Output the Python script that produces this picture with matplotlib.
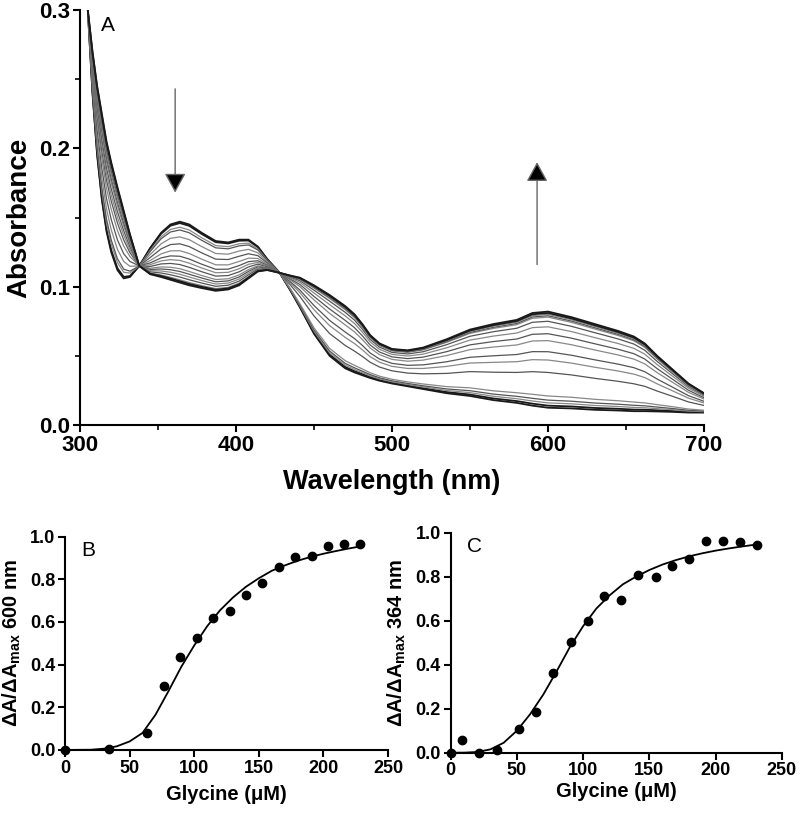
import numpy as np
import matplotlib
matplotlib.use('Agg')
import matplotlib.pyplot as plt
from matplotlib.ticker import MultipleLocator

plt.rcParams['font.family'] = ['Liberation Sans', 'DejaVu Sans']
plt.rcParams['mathtext.default'] = 'regular'
plt.rcParams['axes.linewidth'] = 1.5

# Panel A: spectra (first trace = no glycine, last = saturated)
wl = [302, 305, 308, 311, 314, 317, 320, 324, 328, 332, 338, 345, 352, 358, 364, 370,
      378, 387, 395, 402, 408, 414, 420, 428, 435, 441, 450, 460, 470, 476, 481, 486,
      492, 500, 510, 520, 535, 550, 565, 580, 590, 600, 615, 630, 645, 655, 662, 670,
      680, 690, 700]
abs_first = [0.34, 0.30, 0.24, 0.195, 0.163, 0.14, 0.125, 0.112, 0.106, 0.107, 0.115, 0.128,
             0.139, 0.145, 0.147, 0.145, 0.139, 0.133, 0.132, 0.134, 0.134, 0.129, 0.12, 0.110,
             0.097, 0.085, 0.066, 0.05, 0.041, 0.038, 0.036, 0.034, 0.032, 0.030, 0.028, 0.026,
             0.023, 0.021, 0.018, 0.016, 0.014, 0.0125, 0.012, 0.011, 0.0105, 0.010, 0.010,
             0.0098, 0.0095, 0.009, 0.009]
abs_last = [0.34, 0.30, 0.27, 0.245, 0.225, 0.205, 0.19, 0.172, 0.155, 0.138, 0.115, 0.109,
            0.107, 0.105, 0.103, 0.101, 0.099, 0.097, 0.098, 0.101, 0.106, 0.111, 0.112, 0.110,
            0.108, 0.1065, 0.101, 0.094, 0.086, 0.080, 0.073, 0.065, 0.059, 0.055, 0.054, 0.056,
            0.062, 0.069, 0.073, 0.076, 0.081, 0.082, 0.078, 0.073, 0.068, 0.064, 0.059, 0.050,
            0.040, 0.030, 0.023]
# absorbance of each trace at 364 nm and at 600 nm, in titration order
a364_levels = [0.147, 0.146, 0.143, 0.141, 0.136, 0.131, 0.126, 0.122, 0.119, 0.116,
               0.113, 0.111, 0.109, 0.107, 0.105, 0.104, 0.103]
a600_levels = [0.0125, 0.014, 0.016, 0.018, 0.021, 0.038, 0.047, 0.053, 0.061, 0.066,
               0.071, 0.075, 0.078, 0.079, 0.080, 0.081, 0.082]

# Panel B: normalised change at 600 nm
gly_b = [0, 33.8, 63.6, 76.4, 89.2, 102, 114.6, 127.4, 140.3, 152.6, 165.4, 178.2, 191,
         203.8, 216.2, 228.7]
frac_b = [0, 0.003, 0.078, 0.30, 0.434, 0.523, 0.620, 0.652, 0.727, 0.781, 0.856, 0.906,
          0.909, 0.958, 0.966, 0.966]
fit_x_b = [0, 20, 30, 40, 50, 60, 70, 80, 90, 100, 110, 120, 130, 140, 150, 160, 170, 180,
           190, 200, 210, 220, 231]
fit_y_b = [0, 0.001, 0.006, 0.017, 0.04, 0.08, 0.165, 0.275, 0.39, 0.49, 0.58, 0.655, 0.715,
           0.765, 0.805, 0.84, 0.865, 0.887, 0.905, 0.92, 0.933, 0.945, 0.957]

# Panel C: normalised change at 364 nm
gly_c = [0, 8.8, 21.7, 34.7, 51.6, 64.4, 77.5, 90.6, 103.5, 116, 128.7, 141.7, 154.8, 167.4,
         180.3, 192.8, 205.9, 218.5, 231.6]
frac_c = [0, 0.058, 0.0, 0.012, 0.108, 0.186, 0.364, 0.505, 0.60, 0.712, 0.694, 0.808, 0.80,
          0.848, 0.879, 0.964, 0.964, 0.959, 0.944]
fit_x_c = [0, 10, 20, 30, 40, 50, 60, 70, 80, 90, 100, 110, 120, 130, 140, 150, 160, 170,
           180, 190, 200, 210, 220, 231]
fit_y_c = [0, 0.0, 0.003, 0.015, 0.045, 0.1, 0.175, 0.265, 0.37, 0.48, 0.575, 0.655, 0.715,
           0.765, 0.8, 0.83, 0.855, 0.875, 0.892, 0.906, 0.918, 0.928, 0.937, 0.946]

fig = plt.figure(figsize=(8, 8.15), dpi=100)

# ---- Panel A ----
ax = fig.add_axes([0.1, 0.4785, 0.78, 0.5092])
wl_arr = np.array(wl)
first = np.array(abs_first)
last = np.array(abs_last)
n = len(a600_levels)
for i in range(n):
    f364 = (a364_levels[0] - a364_levels[i]) / (a364_levels[0] - a364_levels[-1])
    f600 = (a600_levels[i] - a600_levels[0]) / (a600_levels[-1] - a600_levels[0])
    w = np.where(wl_arr < 428, f364, f600)
    trace = first + w * (last - first)
    if i in (0, 1, n - 2, n - 1):
        col, lw = '#1a1a1a', 1.3
    elif i % 2:
        col, lw = '#555555', 0.9
    else:
        col, lw = '#888888', 0.9
    ax.plot(wl_arr, trace, color=col, lw=lw)

ax.set_xlim(300, 700)
ax.set_ylim(0, 0.3)
ax.set_xticks([300, 400, 500, 600, 700])
ax.set_yticks([0.0, 0.1, 0.2, 0.3])
ax.set_yticklabels(['0.0', '0.1', '0.2', '0.3'])
ax.xaxis.set_minor_locator(MultipleLocator(50))
ax.yaxis.set_minor_locator(MultipleLocator(0.05))
ax.tick_params(which='major', direction='out', length=5, width=1.5, labelsize=16, pad=2)
ax.tick_params(which='minor', direction='out', length=3.5, width=1.2)
for lab in ax.get_xticklabels() + ax.get_yticklabels():
    lab.set_fontweight('bold')
ax.spines['top'].set_visible(False)
ax.spines['right'].set_visible(False)
ax.set_xlabel('Wavelength (nm)', fontsize=19.5, fontweight='bold')
ax.set_ylabel('Absorbance', fontsize=20, fontweight='bold')
ax.xaxis.set_label_coords(0.5, -0.105)
ax.yaxis.set_label_coords(-0.077, 0.5)
ax.text(0.033, 0.985, 'A', transform=ax.transAxes, fontsize=15, va='top', ha='left')

arrow = dict(arrowstyle='-|>,head_length=0.6,head_width=0.33', mutation_scale=20,
             fc='black', ec='#666666', lw=1.0, shrinkA=0, shrinkB=0)
ax.annotate('', xy=(361, 0.168), xytext=(361, 0.243), arrowprops=arrow)
ax.annotate('', xy=(593, 0.19), xytext=(593, 0.116), arrowprops=arrow)

# ---- Panels B and C ----
panels = [
    ([0.0813, 0.0798, 0.4037, 0.2617], gly_b, frac_b, fit_x_b, fit_y_b, 'B',
     'ΔA/ΔA$_{max}$ 600 nm', -0.13, -0.165),
    ([0.5634, 0.0765, 0.4138, 0.27], gly_c, frac_c, fit_x_c, fit_y_c, 'C',
     'ΔA/ΔA$_{max}$ 364 nm', -0.128, -0.135),
]
for rect, gx, gy, fx, fy, letter, ylab, ylx, xly in panels:
    bx = fig.add_axes(rect)
    bx.plot(fx, fy, color='black', lw=1.3)
    bx.plot(gx, gy, 'o', color='black', ms=6, clip_on=False, zorder=3)
    bx.set_xlim(0, 250)
    bx.set_ylim(0, 1.0)
    bx.set_xticks([0, 50, 100, 150, 200, 250])
    bx.set_yticks([0.0, 0.2, 0.4, 0.6, 0.8, 1.0])
    bx.set_yticklabels(['0.0', '0.2', '0.4', '0.6', '0.8', '1.0'])
    bx.tick_params(direction='out', length=5, width=1.5, labelsize=13, pad=2)
    for lab in bx.get_xticklabels() + bx.get_yticklabels():
        lab.set_fontweight('bold')
    bx.spines['top'].set_visible(False)
    bx.spines['right'].set_visible(False)
    bx.set_xlabel('Glycine (μM)', fontsize=14.5, fontweight='bold')
    bx.set_ylabel(ylab, fontsize=14.5, fontweight='bold')
    bx.xaxis.set_label_coords(0.5, xly)
    bx.yaxis.set_label_coords(ylx, 0.5)
    bx.text(0.05, 0.98, letter, transform=bx.transAxes, fontsize=15, va='top', ha='left')

fig.savefig('out.png', dpi=100)
